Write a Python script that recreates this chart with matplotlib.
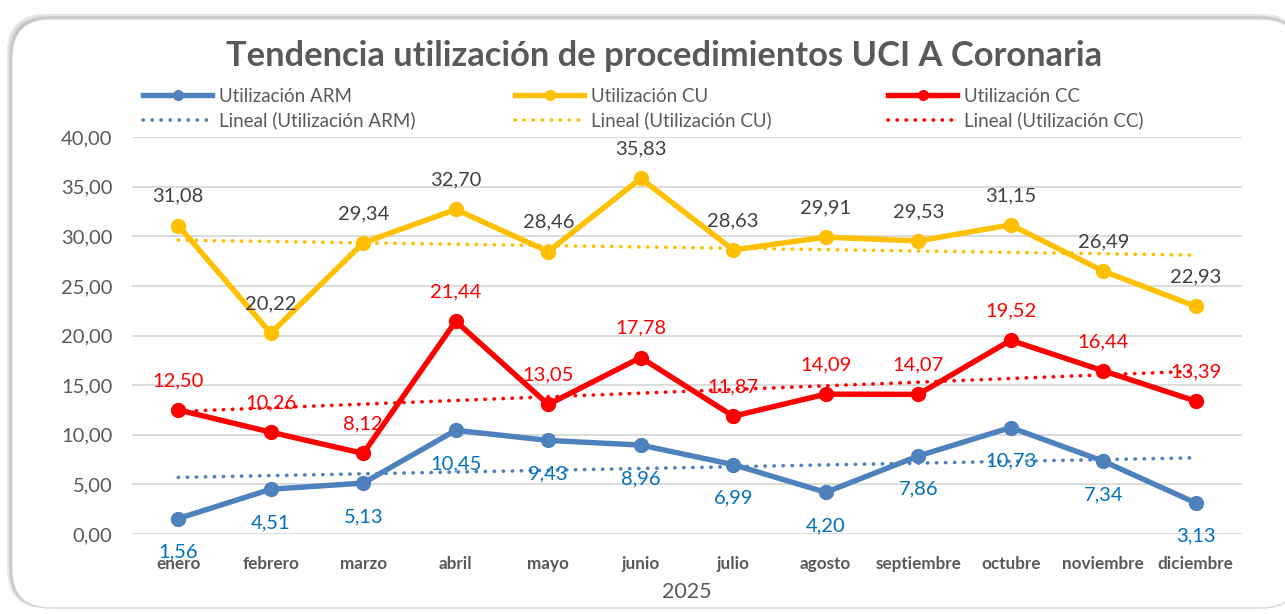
import numpy as np
import matplotlib
matplotlib.use("Agg")
import matplotlib.pyplot as plt
from matplotlib.patches import FancyBboxPatch
from matplotlib.lines import Line2D
from matplotlib.ticker import FuncFormatter

months = ["enero", "febrero", "marzo", "abril", "mayo", "junio", "julio",
          "agosto", "septiembre", "octubre", "noviembre", "diciembre"]
arm = [1.56, 4.51, 5.13, 10.45, 9.43, 8.96, 6.99, 4.20, 7.86, 10.73, 7.34, 3.13]
cu = [31.08, 20.22, 29.34, 32.70, 28.46, 35.83, 28.63, 29.91, 29.53, 31.15, 26.49, 22.93]
cc = [12.50, 10.26, 8.12, 21.44, 13.05, 17.78, 11.87, 14.09, 14.07, 19.52, 16.44, 13.39]
series_names = ["Utilización ARM", "Utilización CU", "Utilización CC"]
title = "Tendencia utilización de procedimientos UCI A Coronaria"
xlabel = "2025"

FONT = "Lato"
plt.rcParams['font.family'] = [FONT, 'DejaVu Sans']

W, H = 1285, 614
fig = plt.figure(figsize=(W / 100, H / 100), dpi=100)
fig.patch.set_facecolor("white")

def fx(px): return px / W
def fy(py): return 1 - py / H

# frame with soft shadow
for i, (off, col) in enumerate([(5, "#e6e6e6"), (3, "#d2d2d2"), (1.5, "#bdbdbd")]):
    sh = FancyBboxPatch((fx(12 - off), fy(608)), fx(1300) - fx(12 - off),
                        fy(19 - off) - fy(608),
                        boxstyle="round,pad=0,rounding_size=0.03",
                        transform=fig.transFigure, facecolor=col,
                        edgecolor="none", zorder=-3 + i * 0.1,
                        mutation_aspect=W / H)
    fig.patches.append(sh)
frame = FancyBboxPatch((fx(12), fy(608)), fx(1300) - fx(12), fy(19) - fy(608),
                       boxstyle="round,pad=0,rounding_size=0.03",
                       transform=fig.transFigure, facecolor="white",
                       edgecolor="#d9d9d9", linewidth=1.0, zorder=-2,
                       mutation_aspect=W / H)
fig.patches.append(frame)

ax = fig.add_axes([132 / W, 1 - 534 / H, 1110 / W, (534 - 137) / H])
ax.set_zorder(2)
ax.set_facecolor("none")
x = np.arange(len(months))

c_arm, c_cu, c_cc = "#4F81BD", "#FFC000", "#FF0000"
lbl_arm, lbl_cu, lbl_cc = "#0070C0", "#404040", "#FF0000"
DOT = (0, (0.1, 2.4))

for vals, col in [(arm, c_arm), (cu, c_cu), (cc, c_cc)]:
    ax.plot(x, vals, color=col, lw=3.9, marker="o", ms=10, zorder=3,
            solid_joinstyle="round")
    p = np.polyfit(x, vals, 1)
    ax.plot(x, np.polyval(p, x), color=col, lw=2.6, ls=DOT,
            dash_capstyle="round", zorder=4)

for vals, col, off in [(cu, lbl_cu, 21), (cc, lbl_cc, 21), (arm, lbl_arm, -24)]:
    for xi, v in zip(x, vals):
        ax.annotate(f"{v:.2f}".replace(".", ","), (xi, v), xytext=(0, off),
                    textcoords="offset points", ha="center", va="center",
                    fontsize=14.5, color=col, zorder=6)

ax.set_xlim(-0.5, 11.5)
ax.set_ylim(0, 40)
ax.set_yticks(np.arange(0, 41, 5))
ax.yaxis.set_major_formatter(FuncFormatter(lambda v, _: f"{v:.2f}".replace(".", ",")))
ax.grid(axis="y", color="#d9d9d9", lw=1.3, zorder=0)
ax.set_axisbelow(True)
for s in ax.spines.values():
    s.set_visible(False)
ax.tick_params(axis="y", length=0, labelsize=14.5, colors="#595959", pad=14)
ax.set_xticks(x)
ax.set_xticklabels(months, fontsize=12.3, fontweight="bold", color="#595959")
ax.tick_params(axis="x", length=0, pad=16)
ax.set_xlabel(xlabel, fontsize=15.5, color="#595959", labelpad=7)

fig.text(664 / W, 1 - 56 / H, title, ha="center", va="center",
         fontsize=24.8, fontweight="bold", color="#595959")

col_x = [143, 515, 888]
for name, col, cx in zip(series_names, [c_arm, c_cu, c_cc], col_x):
    handles = [Line2D([], [], color=col, lw=3.9, marker="o", ms=7),
               Line2D([], [], color=col, lw=2.6, ls=DOT,
                      dash_capstyle="round")]
    labels = [name, f"Lineal ({name})"]
    lg = fig.legend(handles, labels, loc="upper left",
                    bbox_to_anchor=(cx / W, 1 - 88 / H), frameon=False,
                    fontsize=13.5, labelcolor="#595959", handlelength=3.7,
                    handletextpad=0.35, labelspacing=0.35, borderaxespad=0,
                    borderpad=0)

fig.savefig("out.png", dpi=100)
